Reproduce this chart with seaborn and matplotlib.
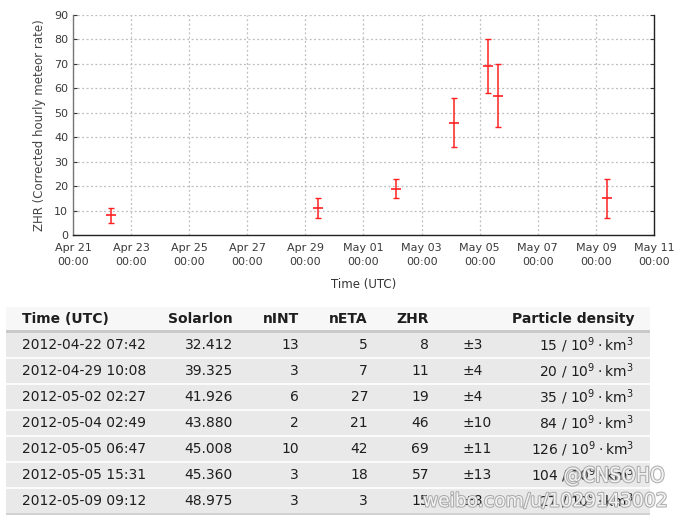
import matplotlib
matplotlib.use("Agg")
import matplotlib.pyplot as plt
import matplotlib.dates as mdates
import matplotlib.patheffects as pe
from matplotlib.patches import Rectangle
import seaborn as sns
import pandas as pd
import numpy as np

# ---------------- data ----------------
times = ["2012-04-22 07:42", "2012-04-29 10:08", "2012-05-02 02:27", "2012-05-04 02:49",
         "2012-05-05 06:47", "2012-05-05 15:31", "2012-05-09 09:12"]
solarlon = ["32.412", "39.325", "41.926", "43.880", "45.008", "45.360", "48.975"]
n_int = [13, 3, 6, 2, 10, 3, 3]
n_eta = [5, 7, 27, 21, 42, 18, 3]
zhr = [8, 11, 19, 46, 69, 57, 15]
zhr_err = [3, 4, 4, 10, 11, 13, 8]
density = [15, 20, 35, 84, 126, 104, 27]

y_ticks = [0, 10, 20, 30, 40, 50, 60, 70, 80, 90]
x_start, x_end = "2012-04-21 00:00", "2012-05-11 00:00"
headers = ["Time (UTC)", "Solarlon", "nINT", "nETA", "ZHR", "", "Particle density"]

df = pd.DataFrame({"time": pd.to_datetime(times), "zhr": zhr, "err": zhr_err})

# ---------------- figure ----------------
sns.set_theme(style="white")
plt.rcParams["font.family"] = ["DejaVu Sans"]
plt.rcParams["mathtext.fontset"] = "dejavusans"
W, H = 674, 521
fig = plt.figure(figsize=(W / 100, H / 100), dpi=100)
fig.patch.set_facecolor("white")

# chart axes: pixel box left 73, right 654, top 15, bottom 235
ax = fig.add_axes([73 / W, 1 - 235 / H, (654 - 73) / W, (235 - 15) / H])
ax.set_facecolor("white")

ax.errorbar(df["time"], df["zhr"], yerr=df["err"], fmt="none", ecolor="#ff2020",
            elinewidth=1.1, capsize=2, capthick=1.0, zorder=3)
sns.scatterplot(data=df, x="time", y="zhr", marker="_", s=45, color="#ff2020",
                linewidth=1.2, ax=ax, zorder=4, legend=False)

ax.set_xlim(pd.Timestamp(x_start), pd.Timestamp(x_end))
ax.set_ylim(0, 90)
ax.set_yticks(y_ticks)
ax.xaxis.set_major_locator(mdates.DayLocator(interval=2))
ax.xaxis.set_minor_locator(mdates.HourLocator(byhour=[0, 12]))
ax.xaxis.set_major_formatter(mdates.DateFormatter("%b %d\n%H:%M"))

ax.grid(True, which="major", linestyle=(0, (1.5, 2)), color="#bdbdbd", linewidth=0.9)
ax.tick_params(axis="both", which="major", direction="in", length=3, width=0.8,
               colors="#333333", labelsize=8, labelcolor="#3a3a3a")
ax.tick_params(axis="x", which="minor", direction="in", length=2, width=0.6, colors="#888888")
ax.tick_params(axis="y", right=True, left=True)
ax.tick_params(axis="x", pad=6)
for lbl in ax.get_xticklabels():
    lbl.set_linespacing(1.5)

ax.spines["top"].set_visible(False)
for s in ["left", "bottom", "right"]:
    ax.spines[s].set_color("#222222")
    ax.spines[s].set_linewidth(1.0)
ax.spines["left"].set_color("#777777")

ax.set_xlabel("Time (UTC)", fontsize=8.5, color="#333333", labelpad=8)
ax.set_ylabel("ZHR (Corrected hourly meteor rate)", fontsize=8.5, color="#444444", labelpad=6)

# ---------------- table ----------------
tx = fig.add_axes([0, 0, 1, 1], zorder=-1)
tx.set_xlim(0, W)
tx.set_ylim(H, 0)
tx.axis("off")

left, right = 6, 650
header_top, header_bottom = 307, 331
row_h = 26
n_rows = len(times)

tx.add_patch(Rectangle((left, header_top), right - left, header_bottom - header_top,
                       facecolor="#f7f7f7", edgecolor="none"))
tx.add_patch(Rectangle((left, header_bottom - 1), right - left, 3,
                       facecolor="#c9c9c9", edgecolor="none"))
for i in range(n_rows):
    top = header_bottom + 2 + i * row_h
    tx.add_patch(Rectangle((left, top), right - left, row_h - 2,
                           facecolor="#e9e9e9", edgecolor="none"))
    tx.add_patch(Rectangle((left, top + row_h - 2), right - left, 2,
                           facecolor="#fbfbfb" if i < n_rows - 1 else "#d2d2d2",
                           edgecolor="none"))

col_x = [22, 233, 299, 368, 429, 462, 634]
col_ha = ["left", "right", "right", "right", "right", "left", "right"]
txt_color = "#1e1e1e"
fs = 10

for h, x, ha in zip(headers, col_x, col_ha):
    tx.text(x, 319, h, ha=ha, va="center", fontsize=fs, fontweight="bold", color=txt_color)

for i in range(n_rows):
    yc = header_bottom + 2 + i * row_h + (row_h - 2) / 2
    vals = [times[i], solarlon[i], str(n_int[i]), str(n_eta[i]), str(zhr[i]),
            "\u00b1" + str(zhr_err[i]), f"{density[i]} / 10$^{{9}}$\u2009$\\cdot$\u2009km$^{{3}}$"]
    for v, x, ha in zip(vals, col_x, col_ha):
        tx.text(x, yc, v, ha=ha, va="center", fontsize=fs, color=txt_color)

# ---------------- watermark ----------------
wm_fx = [pe.withStroke(linewidth=1.5, foreground="#a0a0a0")]
fig.text(665 / W, 1 - 476 / H, "@CNSOHO", ha="right", va="center", fontsize=15,
         color="white", alpha=0.85, path_effects=wm_fx, fontstretch="condensed")
fig.text(667 / W, 1 - 501 / H, "weibo.com/u/1029143002", ha="right", va="center",
         fontsize=13.5, color="white", alpha=0.85, path_effects=wm_fx)

fig.savefig("out.png", dpi=100, facecolor="white")
